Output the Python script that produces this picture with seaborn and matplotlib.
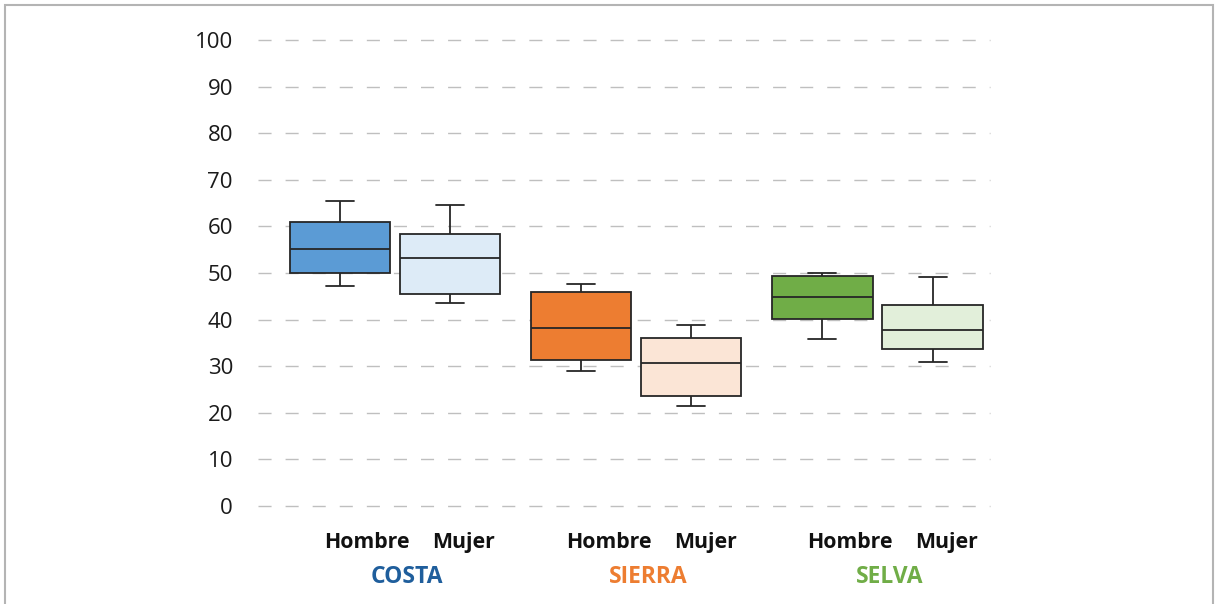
import matplotlib
matplotlib.use("Agg")
import matplotlib.pyplot as plt
from matplotlib.patches import Rectangle
import numpy as np
import pandas as pd
import seaborn as sns

# ---- data (five-number summaries: min, q1, median, q3, max)
regions = ["COSTA", "SIERRA", "SELVA"]
sexes = ["Hombre", "Mujer"]
costa_hombre = [47.3, 50.0, 55.1, 60.9, 65.5]
costa_mujer = [43.6, 45.6, 53.3, 58.4, 64.6]
sierra_hombre = [29.0, 31.3, 38.1, 45.9, 47.6]
sierra_mujer = [21.5, 23.5, 30.7, 36.0, 38.8]
selva_hombre = [35.9, 40.2, 44.8, 49.4, 50.1]
selva_mujer = [30.8, 33.6, 37.8, 43.1, 49.2]
y_ticks = [0, 10, 20, 30, 40, 50, 60, 70, 80, 90, 100]

# ---- styles
box_colors = {
    ("COSTA", "Hombre"): "#5B9BD5", ("COSTA", "Mujer"): "#DDEBF7",
    ("SIERRA", "Hombre"): "#ED7D31", ("SIERRA", "Mujer"): "#FBE5D6",
    ("SELVA", "Hombre"): "#70AD47", ("SELVA", "Mujer"): "#E2EFDA",
}
region_colors = {"COSTA": "#1F5E9C", "SIERRA": "#ED7D31", "SELVA": "#70AD47"}

series = {
    ("COSTA", "Hombre"): costa_hombre, ("COSTA", "Mujer"): costa_mujer,
    ("SIERRA", "Hombre"): sierra_hombre, ("SIERRA", "Mujer"): sierra_mujer,
    ("SELVA", "Hombre"): selva_hombre, ("SELVA", "Mujer"): selva_mujer,
}
rows = []
for (reg, sex), vals in series.items():
    for v in vals:
        rows.append({"region": reg, "sexo": sex, "valor": v})
df = pd.DataFrame(rows)

sns.set_theme(style="white")
plt.rcParams["font.family"] = ["Open Sans", "DejaVu Sans"]

fig = plt.figure(figsize=(12.16, 6.04), dpi=100)
ax = fig.add_axes([258 / 1216, 98 / 604, 732 / 1216, 466 / 604])

sns.boxplot(data=df, x="region", y="valor", hue="sexo", order=regions,
            hue_order=sexes, whis=(0, 100), dodge=True, width=0.913, gap=0.09,
            linewidth=1.3, linecolor="#262626", legend=False, ax=ax)

# recolor each box individually
for p in ax.patches:
    verts = p.get_path().vertices
    cx = (verts[:, 0].min() + verts[:, 0].max()) / 2
    g = int(round(cx))
    h = 0 if cx < g else 1
    p.set_facecolor(box_colors[(regions[g], sexes[h])])
    p.set_edgecolor("#262626")

# shorten whisker caps
box_w = 0.913 / 2 * (1 - 0.09)
for ln in ax.lines:
    x = np.asarray(ln.get_xdata(), dtype=float)
    y = np.asarray(ln.get_ydata(), dtype=float)
    if len(x) == 2 and y[0] == y[1] and abs(x[1] - x[0]) < 0.8 * box_w:
        c = x.mean()
        half = 0.28 * box_w / 2
        ln.set_xdata([c - half, c + half])

ax.set_ylim(0, 100)
ax.set_xlim((258 - 395) / 241.25, (990 - 395) / 241.25)
ax.set_yticks(y_ticks)
ax.set_yticklabels([str(t) for t in y_ticks], fontsize=16, color="#1a1a1a")
ax.tick_params(axis="y", length=0, pad=18)
ax.set_xticks([])
ax.set_xlabel("")
ax.set_ylabel("")
for s in ax.spines.values():
    s.set_visible(False)
ax.yaxis.grid(True, linestyle=(0, (9.4, 10.1)), color="#BFBFBF", linewidth=1.0)
ax.set_axisbelow(True)
for gl in ax.yaxis.get_gridlines():
    gl.set_clip_on(False)

# category labels
trans = ax.get_xaxis_transform()
for i, reg in enumerate(regions):
    ax.text(i - 0.115, -0.078, "Hombre", transform=trans, ha="center", va="center",
            fontsize=15.3, fontweight="bold", color="#111111")
    ax.text(i + 0.285, -0.078, "Mujer", transform=trans, ha="center", va="center",
            fontsize=15.3, fontweight="bold", color="#111111")
    ax.text(i + 0.05, -0.153, reg, transform=trans, ha="center", va="center",
            fontsize=16.5, fontweight="bold", color=region_colors[reg])

# figure border
fig.patches.append(Rectangle((5 / 1216, -0.05), 1208 / 1216, 1.05 - 5 / 604,
                             transform=fig.transFigure, fill=False,
                             edgecolor="#B4B4B4", linewidth=1.5))

fig.savefig("out.png", dpi=100)
